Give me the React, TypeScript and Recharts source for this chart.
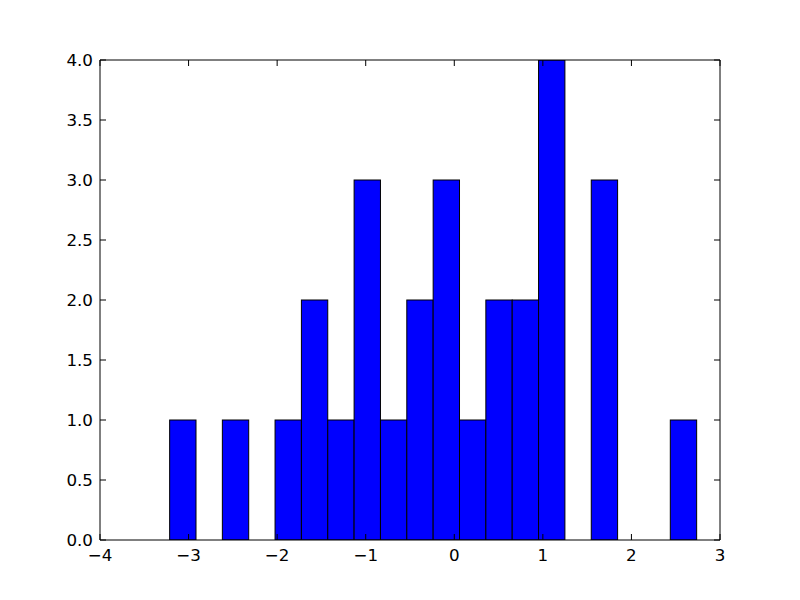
import React from "react";
import { ComposedChart, Bar, Line, XAxis, YAxis } from "recharts";

// histogram bins (20 bins from -3.21 to 2.74)
const binStart = -3.21;
const binEnd = 2.74;
const counts = [1, 0, 1, 0, 1, 2, 1, 3, 1, 2, 3, 1, 2, 2, 4, 0, 3, 0, 0, 1];
const xTicks = [-4, -3, -2, -1, 0, 1, 2, 3];
const yTicks = [0, 0.5, 1, 1.5, 2, 2.5, 3, 3.5, 4];

const binWidth = (binEnd - binStart) / counts.length;
const data = counts.map((c, i) => ({ x: binStart + binWidth * (i + 0.5), count: c }));

const W = 800;
const H = 600;
const margin = { top: 59, right: 79, bottom: 30, left: 50 };
const plotW = 620;
const barPx = (binWidth * plotW) / (xTicks[xTicks.length - 1] - xTicks[0]);

const font = "DejaVu Sans, sans-serif";
const fs = 16.7;
const fmtX = (v: number) => (v < 0 ? "\u2212" + Math.abs(v) : String(v));

const BottomTick = (props: any) => {
  const { x, y, payload } = props;
  return (
    <g>
      <line x1={x} y1={y} x2={x} y2={y - 6} stroke="#000" />
      <text x={x} y={y + 21} textAnchor="middle" fontSize={fs} fontFamily={font} fill="#000">
        {fmtX(payload.value)}
      </text>
    </g>
  );
};

const TopTick = (props: any) => {
  const { x, y } = props;
  return <line x1={x} y1={y} x2={x} y2={y + 6} stroke="#000" />;
};

const LeftTick = (props: any) => {
  const { x, y, payload } = props;
  return (
    <g>
      <line x1={x} y1={y} x2={x + 6} y2={y} stroke="#000" />
      <text x={x - 7} y={y + 6} textAnchor="end" fontSize={fs} fontFamily={font} fill="#000">
        {payload.value.toFixed(1)}
      </text>
    </g>
  );
};

const RightTick = (props: any) => {
  const { x, y } = props;
  return <line x1={x} y1={y} x2={x - 6} y2={y} stroke="#000" />;
};

// full-width histogram bar centred on the library's x position
const HistBar = (props: any) => {
  const { x, y, width, height } = props;
  if (!height || height <= 0) return null;
  const cx = x + width / 2;
  return (
    <rect
      x={cx - barPx / 2}
      y={y}
      width={barPx}
      height={height}
      fill="#0000ff"
      stroke="#000"
      strokeWidth={1}
    />
  );
};

export default function App() {
  return (
    <div style={{ position: "absolute", left: 0, top: 0, width: W, height: H, background: "#fff" }}>
      <ComposedChart
        width={W}
        height={H}
        data={data}
        margin={margin}
        barCategoryGap={0}
        barGap={0}
      >
        <XAxis
          dataKey="x"
          type="number"
          domain={[-4, 3]}
          ticks={xTicks}
          height={30}
          tickSize={0}
          tickMargin={0}
          tickLine={false}
          axisLine={{ stroke: "#000" }}
          tick={<BottomTick />}
          allowDataOverflow
        />
        <XAxis
          xAxisId="top"
          dataKey="x"
          orientation="top"
          type="number"
          domain={[-4, 3]}
          ticks={xTicks}
          height={1}
          tickSize={0}
          tickMargin={0}
          tickLine={false}
          axisLine={{ stroke: "#000" }}
          tick={<TopTick />}
          allowDataOverflow
        />
        <YAxis
          type="number"
          domain={[0, 4]}
          ticks={yTicks}
          width={50}
          tickSize={0}
          tickMargin={0}
          tickLine={false}
          axisLine={{ stroke: "#000" }}
          tick={<LeftTick />}
          allowDataOverflow
        />
        <YAxis
          yAxisId="right"
          orientation="right"
          type="number"
          domain={[0, 4]}
          ticks={yTicks}
          width={1}
          tickSize={0}
          tickMargin={0}
          tickLine={false}
          axisLine={{ stroke: "#000" }}
          tick={<RightTick />}
          allowDataOverflow
        />
        <Bar
          dataKey="count"
          fill="#0000ff"
          stroke="#000"
          strokeWidth={1}
          barSize={barPx}
          shape={<HistBar />}
          isAnimationActive={false}
        />
        {/* invisible series so the mirrored frame axes get drawn */}
        <Line
          xAxisId="top"
          yAxisId="right"
          dataKey="count"
          stroke="none"
          dot={false}
          activeDot={false}
          legendType="none"
          isAnimationActive={false}
        />
      </ComposedChart>
    </div>
  );
}
